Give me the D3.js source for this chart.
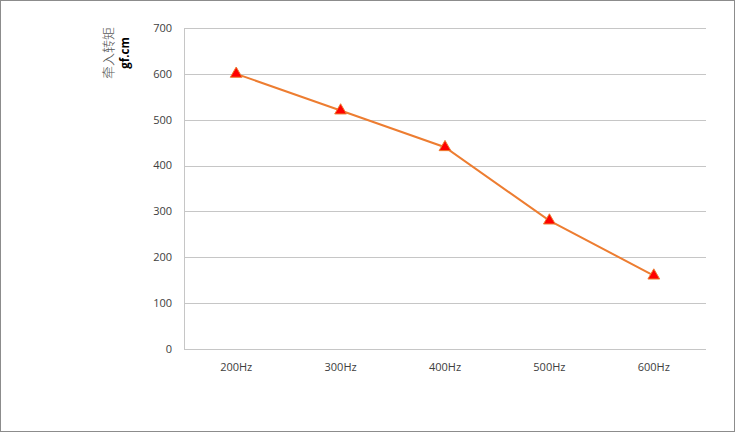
<!DOCTYPE html>
<html><head><meta charset="utf-8">
<script src="https://cdn.jsdelivr.net/npm/d3@7"></script>
<style>body{margin:0;background:#fff}svg{display:block}</style>
</head><body>
<script>
const categories = ["200Hz","300Hz","400Hz","500Hz","600Hz"];
const torque = [600, 520, 440, 280, 160];
const yTicks = [0,100,200,300,400,500,600,700];

(function(){
const W = 735, H = 432;
const svg = d3.select("body").append("svg").attr("width", W).attr("height", H);
svg.append("rect").attr("x",0.5).attr("y",0.5).attr("width",W-1).attr("height",H-1)
  .attr("fill","#fff").attr("stroke","#8c8c8c");

const pl = 184, pr = 706, pt = 28, pb = 349;
const x = d3.scaleBand().domain(categories).range([pl, pr]);
const y = d3.scaleLinear().domain([0, 700]).range([pb, pt]);
const font = "'Open Sans', 'Liberation Sans', Arial, sans-serif";

svg.append("g").selectAll("line").data(yTicks).join("line")
  .attr("x1", pl).attr("x2", pr)
  .attr("y1", d => Math.round(y(d)) + 0.5).attr("y2", d => Math.round(y(d)) + 0.5)
  .attr("stroke", "#c6c6c6").attr("stroke-width", 1);
svg.append("line").attr("x1", pl+0.5).attr("x2", pl+0.5).attr("y1", pt).attr("y2", pb)
  .attr("stroke","#c6c6c6");
svg.append("g").selectAll("text").data(yTicks).join("text")
  .attr("x", 172).attr("y", d => y(d)).attr("dy","0.35em").attr("text-anchor","end")
  .attr("font-family", font).attr("font-size", 11).attr("fill","#404040").text(d => d);
svg.append("g").selectAll("text").data(categories).join("text")
  .attr("x", d => x(d) + x.bandwidth()/2).attr("y", 367).attr("dy","0.35em").attr("text-anchor","middle")
  .attr("font-family", font).attr("font-size", 11).attr("fill","#404040").text(d => d);

const t = svg.append("g").attr("transform","translate(114,53) rotate(-90)");
t.append("text").attr("x",0).attr("y",-1).attr("text-anchor","middle")
  .attr("font-family","'Noto Sans CJK SC', sans-serif").attr("font-size",13).attr("font-weight",300)
  .attr("fill","#595959").text("牵入转矩");
t.append("text").attr("x",0).attr("y",15).attr("text-anchor","middle")
  .attr("font-family", font).attr("font-size",11.5).attr("font-weight","bold").attr("fill","#000").text("gf.cm");

const line = d3.line().x((d,i) => x(categories[i]) + x.bandwidth()/2).y(d => y(d));
svg.append("path").datum(torque).attr("d", line).attr("fill","none")
  .attr("stroke","#ED7D31").attr("stroke-width",2);
const tri = d3.symbol().type(d3.symbolTriangle).size(60);
svg.append("g").selectAll("path").data(torque).join("path")
  .attr("transform",(d,i) => `translate(${x(categories[i]) + x.bandwidth()/2},${y(d)})`)
  .attr("d", tri()).attr("fill","#FF0000").attr("stroke","#ED7D31").attr("stroke-width",1);
})();
</script>
</body></html>
